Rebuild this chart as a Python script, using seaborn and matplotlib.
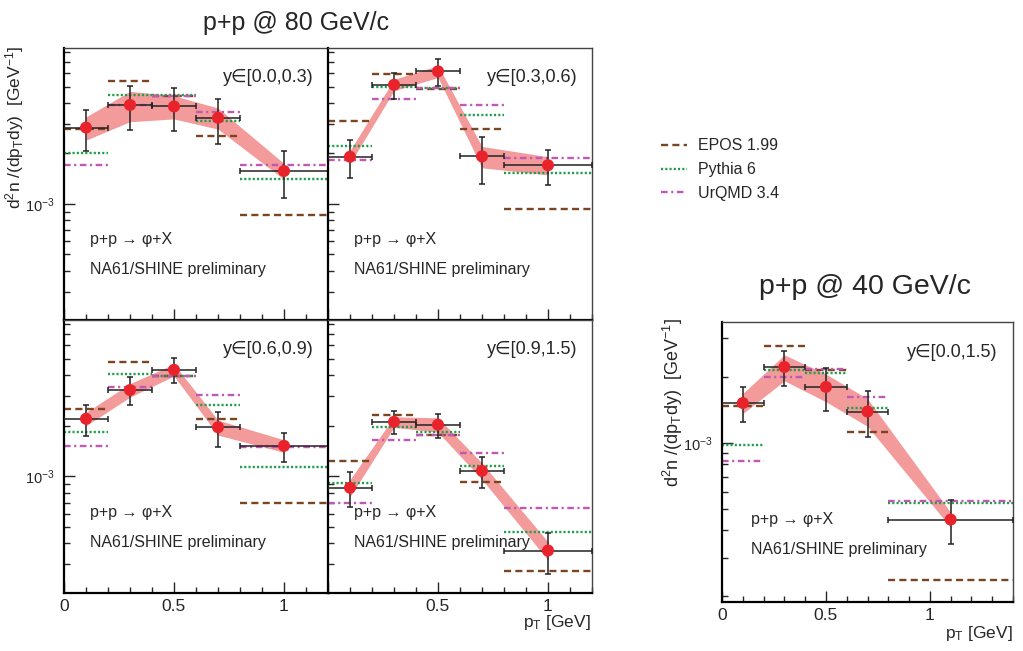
import numpy as np
import pandas as pd
import seaborn as sns
import matplotlib.pyplot as plt
from matplotlib.lines import Line2D
from matplotlib.ticker import LogLocator, NullFormatter, MultipleLocator, FixedFormatter, FixedLocator

# --- data (values in units of 1e-3 GeV^-1) ---
pt_80 = [0.1, 0.3, 0.5, 0.7, 1.0]
edges_80 = [0.0, 0.2, 0.4, 0.6, 0.8, 1.2]
pt_40 = [0.1, 0.3, 0.5, 0.7, 1.1]
edges_40 = [0.0, 0.2, 0.4, 0.6, 0.8, 1.4]

rap_labels = ["y∈[0.0,0.3)", "y∈[0.3,0.6)", "y∈[0.6,0.9)", "y∈[0.9,1.5)", "y∈[0.0,1.5)"]
models = ["EPOS 1.99", "Pythia 6", "UrQMD 3.4"]

data_y1 = [2.85, 3.89, 3.81, 3.26, 1.57]
stat_y1 = [0.78, 1.15, 1.10, 0.98, 0.49]
sys_y1 = [0.45, 0.80, 0.60, 0.47, 0.17]
epos_y1 = [2.81, 5.38, 4.40, 2.54, 0.863]
pythia_y1 = [2.00, 4.47, 4.47, 3.14, 1.41]
urqmd_y1 = [1.70, 3.89, 4.41, 3.52, 1.71]

data_y2 = [1.91, 5.13, 6.17, 1.92, 1.70]
stat_y2 = [0.49, 0.90, 1.10, 0.60, 0.40]
sys_y2 = [0.17, 0.40, 0.50, 0.28, 0.21]
epos_y2 = [3.10, 5.94, 4.83, 2.78, 0.933]
pythia_y2 = [2.21, 4.99, 4.90, 3.39, 1.52]
urqmd_y2 = [1.82, 4.21, 4.88, 3.88, 1.87]

data_y3 = [2.20, 3.26, 4.30, 1.96, 1.52]
stat_y3 = [0.45, 0.62, 0.73, 0.46, 0.30]
sys_y3 = [0.20, 0.30, 0.35, 0.20, 0.13]
epos_y3 = [2.50, 4.76, 3.95, 2.18, 0.70]
pythia_y3 = [1.84, 4.05, 3.93, 2.65, 1.14]
urqmd_y3 = [1.52, 3.42, 3.96, 3.03, 1.49]

data_y4 = [0.857, 2.11, 2.03, 1.08, 0.363]
stat_y4 = [0.20, 0.33, 0.33, 0.23, 0.10]
sys_y4 = [0.10, 0.15, 0.20, 0.12, 0.045]
epos_y4 = [1.23, 2.32, 1.76, 0.927, 0.273]
pythia_y4 = [0.91, 1.97, 1.84, 1.16, 0.467]
urqmd_y4 = [0.70, 1.64, 1.77, 1.38, 0.645]

data_40 = [1.52, 2.22, 1.80, 1.39, 0.447]
stat_40 = [0.28, 0.40, 0.40, 0.33, 0.10]
sys_40 = [0.16, 0.30, 0.26, 0.20, 0.035]
epos_40 = [1.48, 2.77, 2.16, 1.12, 0.238]
pythia_40 = [0.98, 2.15, 2.09, 1.45, 0.532]
urqmd_40 = [0.825, 2.00, 2.17, 1.62, 0.544]

# --- style ---
sns.set_style("ticks")
plt.rcParams['font.family'] = ['Liberation Sans', 'DejaVu Sans']
plt.rcParams['mathtext.fontset'] = 'custom'
plt.rcParams['mathtext.rm'] = 'Liberation Sans'
plt.rcParams['mathtext.it'] = 'Liberation Sans:italic'
plt.rcParams['mathtext.sf'] = 'Liberation Sans'

palette = {"EPOS 1.99": "#7a4520", "Pythia 6": "#1f9e4a", "UrQMD 3.4": "#c058b4"}
dashes = {"EPOS 1.99": (3.0, 1.8), "Pythia 6": (0.9, 0.9), "UrQMD 3.4": (2.8, 1.5, 0.9, 1.5)}
BAND = "#f39a9a"
RED = "#e8232b"


def model_frame(edges, epos, pythia, urqmd):
    rows = []
    for name, vals in zip(models, [epos, pythia, urqmd]):
        for i, v in enumerate(vals):
            rows.append((name, f"{name}_{i}", edges[i], v * 1e-3))
            rows.append((name, f"{name}_{i}", edges[i + 1], v * 1e-3))
    return pd.DataFrame(rows, columns=["model", "seg", "pt", "val"])


def draw_panel(ax, pt, edges, data, stat, sys, epos, pythia, urqmd, label, ylim):
    pt = np.array(pt)
    d = np.array(data) * 1e-3
    s = np.array(stat) * 1e-3
    sy = np.array(sys) * 1e-3
    lo = pt - np.array(edges[:-1])
    hi = np.array(edges[1:]) - pt
    ax.fill_between(pt, d - sy, d + sy, color=BAND, lw=0, zorder=1)
    mf = model_frame(edges, epos, pythia, urqmd)
    sns.lineplot(data=mf, x="pt", y="val", hue="model", style="model", units="seg",
                 estimator=None, sort=False, palette=palette, dashes=dashes,
                 lw=1.7, legend=False, ax=ax, zorder=2)
    ax.errorbar(pt, d, yerr=s, xerr=[lo, hi], fmt="none", ecolor="#222222",
                elinewidth=1.1, capsize=2.5, capthick=1.1, zorder=3)
    sns.scatterplot(x=pt, y=d, color=RED, s=75, edgecolor="none", ax=ax, zorder=4)
    ax.set_yscale("log")
    ax.set_xlim(edges[0], edges[-1])
    ax.set_ylim(*ylim)
    ax.set_xlabel("")
    ax.set_ylabel("")
    ax.yaxis.set_major_locator(FixedLocator([1e-3]))
    ax.yaxis.set_major_formatter(FixedFormatter([r"10$^{\mathrm{-3}}$"]))
    ax.yaxis.set_minor_locator(LogLocator(base=10, subs=np.arange(2, 10)))
    ax.yaxis.set_minor_formatter(NullFormatter())
    ax.xaxis.set_major_locator(MultipleLocator(0.5))
    ax.xaxis.set_minor_locator(MultipleLocator(0.1))
    ax.xaxis.set_major_formatter(plt.FuncFormatter(lambda v, p: f"{v:g}"))
    ax.tick_params(axis="both", which="major", direction="in", length=8, width=1,
                   top=False, right=False)
    ax.tick_params(axis="both", which="minor", direction="in", length=4.5, width=1,
                   top=False, right=False)
    ax.tick_params(axis="x", pad=4, labelsize=12.5)
    ax.tick_params(axis="y", pad=7, labelsize=10.5)
    for side in ["left", "bottom"]:
        ax.spines[side].set_linewidth(1.6)
        ax.spines[side].set_color("black")
    for side in ["top", "right"]:
        ax.spines[side].set_linewidth(1.0)
        ax.spines[side].set_color("#444444")
    ax.text(0.945, 0.875, label, transform=ax.transAxes, ha="right", va="baseline", fontsize=13)
    ax.text(0.10, 0.28, "p+p → φ+X", transform=ax.transAxes,
            ha="left", va="baseline", fontsize=11.5)
    ax.text(0.10, 0.17, "NA61/SHINE preliminary", transform=ax.transAxes,
            ha="left", va="baseline", fontsize=11.5)


fig = plt.figure(figsize=(10.23, 6.51), dpi=100)
W, H = 1023, 651
grid_ylim = (2.03e-4, 8.5e-3)
pw = 264 / W
ax_tl = fig.add_axes([64 / W, 1 - 320 / H, pw, 272 / H])
ax_tr = fig.add_axes([328 / W, 1 - 320 / H, pw, 272 / H])
ax_bl = fig.add_axes([64 / W, 1 - 593 / H, pw, 273 / H])
ax_br = fig.add_axes([328 / W, 1 - 593 / H, pw, 273 / H])
ax_40 = fig.add_axes([722 / W, 1 - 602 / H, 291 / W, 280 / H])

draw_panel(ax_tl, pt_80, edges_80, data_y1, stat_y1, sys_y1, epos_y1, pythia_y1, urqmd_y1, rap_labels[0], grid_ylim)
draw_panel(ax_tr, pt_80, edges_80, data_y2, stat_y2, sys_y2, epos_y2, pythia_y2, urqmd_y2, rap_labels[1], grid_ylim)
draw_panel(ax_bl, pt_80, edges_80, data_y3, stat_y3, sys_y3, epos_y3, pythia_y3, urqmd_y3, rap_labels[2], grid_ylim)
draw_panel(ax_br, pt_80, edges_80, data_y4, stat_y4, sys_y4, epos_y4, pythia_y4, urqmd_y4, rap_labels[3], grid_ylim)
draw_panel(ax_40, pt_40, edges_40, data_40, stat_40, sys_40, epos_40, pythia_40, urqmd_40, rap_labels[4], (1.88e-4, 3.56e-3))

for ax in [ax_tl, ax_tr]:
    ax.tick_params(axis="x", labelbottom=False)
for ax in [ax_tr, ax_br]:
    ax.tick_params(axis="y", labelleft=False)
ax_br.xaxis.set_major_formatter(plt.FuncFormatter(lambda v, p: "" if v == 0 else f"{v:g}"))

# titles and axis labels
fig.text(296 / W, 1 - 30 / H, "p+p @ 80 GeV/c", ha="center", va="baseline", fontsize=18)
fig.text(865 / W, 1 - 294 / H, "p+p @ 40 GeV/c", ha="center", va="baseline", fontsize=20.5)
ylab = r"d$^{2}$n /(dp$_{\mathrm{T}}$dy)  [GeV$^{\mathrm{-1}}$]"
fig.text(15 / W, 1 - 46 / H, ylab, rotation=90, ha="center", va="top", fontsize=12.5)
fig.text(673 / W, 1 - 318 / H, ylab, rotation=90, ha="center", va="top", fontsize=13)
xlab = r"p$_{\mathrm{T}}$ [GeV]"
fig.text(591 / W, 1 - 627 / H, xlab, ha="right", va="baseline", fontsize=12.5)
fig.text(1013 / W, 1 - 638 / H, xlab, ha="right", va="baseline", fontsize=12.5)

handles = [Line2D([], [], color=palette[m], lw=1.7, dashes=dashes[m]) for m in models]
fig.legend(handles, models, loc="upper left", bbox_to_anchor=(655 / W, 1 - 132 / H),
           frameon=False, fontsize=11.5, handlelength=1.6, handletextpad=0.7,
           labelspacing=0.55, borderaxespad=0)

fig.savefig("out.png", dpi=100)
